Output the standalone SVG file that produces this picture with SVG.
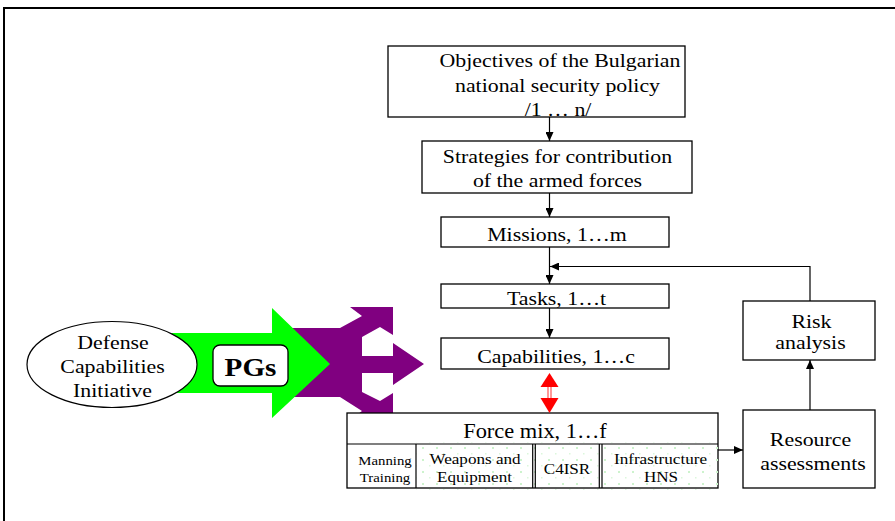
<svg xmlns="http://www.w3.org/2000/svg" width="895" height="521" viewBox="0 0 895 521">
  <style>
    .box { fill: #fff; stroke: #000; stroke-width: 1.3; }
    .ln { fill: none; stroke: #000; stroke-width: 1.2; }
    .t { font-family: "Liberation Serif", "Times New Roman", serif; font-size: 19px; fill: #000; text-anchor: middle; }
    .s { font-family: "Liberation Serif", "Times New Roman", serif; font-size: 15px; fill: #000; text-anchor: middle; }
    .xs { font-family: "Liberation Serif", "Times New Roman", serif; font-size: 13px; fill: #000; text-anchor: middle; }
    .b { font-family: "Liberation Serif", "Times New Roman", serif; font-size: 26px; font-weight: bold; fill: #000; text-anchor: middle; }
  </style>
  <defs>
    <marker id="ah" viewBox="0 0 9 8" markerWidth="9" markerHeight="8" refX="9" refY="4" orient="auto" markerUnits="userSpaceOnUse">
      <path d="M0,0 L9,4 L0,8 z" fill="#000"/>
    </marker>
    <pattern id="dots" x="0" y="0" width="14" height="12" patternUnits="userSpaceOnUse">
      <rect x="2" y="3" width="2" height="2" fill="#cdf3cd"/>
      <rect x="9" y="9" width="1.5" height="1.5" fill="#dcf7dc"/>
    </pattern>
  </defs>

  <rect width="895" height="521" fill="#fff"/>
  <path d="M4,521 L4,8 L895,8" fill="none" stroke="#000" stroke-width="2"/>

  <!-- Purple PG arrow -->
  <g id="purple-arrow">
    <polygon fill="#800080" points="288,328 340,328 362,316 350,307 393,307 393,335 380,327 362,337 362,356 393,356 393,343 424,364 393,385 393,373 362,373 362,392 380,401 393,393 393,420 350,420 362,411 340,397 288,397"/>
  </g>

  <!-- Green arrow -->
  <g id="green-arrow">
    <polygon fill="#00ff00" points="150,333 272,333 272,308 330,364 272,418 272,393 150,393"/>
  </g>

  <g id="dci">
    <ellipse cx="112" cy="364.5" rx="85" ry="43" fill="#fff" stroke="#000" stroke-width="1.2"/>
    <text class="t" transform="translate(113,349) scale(1.15,1)">Defense</text>
    <text class="t" transform="translate(112.5,373) scale(1.15,1)">Capabilities</text>
    <text class="t" transform="translate(112.5,397) scale(1.15,1)">Initiative</text>
  </g>

  <g id="pgs">
    <rect x="213" y="345" width="75" height="41" rx="7" fill="#fff" stroke="#000" stroke-width="1.3"/>
    <text class="b" transform="translate(250.5,376) scale(1.12,1)">PGs</text>
  </g>

  <g id="objectives">
    <rect class="box" x="388" y="46" width="297" height="71"/>
    <text class="t" transform="translate(560,67) scale(1.15,1)">Objectives of the Bulgarian</text>
    <text class="t" transform="translate(557.5,92) scale(1.15,1)">national security policy</text>
    <text class="t" transform="translate(558,116) scale(1.15,1)">/1 … n/</text>
  </g>

  <g id="strategies">
    <rect class="box" x="422" y="141" width="270" height="52"/>
    <text class="t" transform="translate(557.5,163) scale(1.15,1)">Strategies for contribution</text>
    <text class="t" transform="translate(557.5,187) scale(1.15,1)">of the armed forces</text>
  </g>

  <g id="missions">
    <rect class="box" x="441" y="217" width="228" height="30"/>
    <text class="t" transform="translate(557,241) scale(1.15,1)">Missions, 1…m</text>
  </g>

  <g id="tasks">
    <rect class="box" x="441" y="284" width="228" height="24"/>
    <text class="t" transform="translate(556.5,305) scale(1.15,1)">Tasks, 1…t</text>
  </g>

  <g id="capabilities">
    <rect class="box" x="441" y="338" width="228" height="31"/>
    <text class="t" transform="translate(556,363) scale(1.15,1)">Capabilities, 1…c</text>
  </g>

  <g id="force-mix">
    <rect class="box" x="347" y="413" width="371" height="75"/>
    <rect x="416" y="442" width="306" height="48" fill="url(#dots)"/>
    <line class="ln" x1="347" y1="444" x2="718" y2="444"/>
    <line class="ln" x1="416" y1="444" x2="416" y2="488"/>
    <line class="ln" x1="532.7" y1="444" x2="532.7" y2="488"/>
    <line class="ln" x1="535.3" y1="444" x2="535.3" y2="488"/>
    <line class="ln" x1="599.3" y1="444" x2="599.3" y2="488"/>
    <line class="ln" x1="602" y1="444" x2="602" y2="488"/>
    <text class="t" transform="translate(535,437.5) scale(1.12,1)" style="font-size:20px">Force mix, 1…f</text>
    <text class="xs" transform="translate(385,465) scale(1.14,1)">Manning</text>
    <text class="xs" transform="translate(385,481.5) scale(1.14,1)">Training</text>
    <text class="s" transform="translate(475,464) scale(1.14,1)">Weapons and</text>
    <text class="s" transform="translate(474.5,481.5) scale(1.14,1)">Equipment</text>
    <text class="s" transform="translate(567,474) scale(1.14,1)">C4ISR</text>
    <text class="s" transform="translate(660.5,464) scale(1.14,1)">Infrastructure</text>
    <text class="s" transform="translate(661,481.5) scale(1.14,1)">HNS</text>
  </g>

  <g id="risk">
    <rect class="box" x="743" y="301" width="132" height="59"/>
    <text class="t" transform="translate(811.5,328) scale(1.15,1)">Risk</text>
    <text class="t" transform="translate(810.5,349) scale(1.15,1)">analysis</text>
  </g>

  <g id="resource">
    <rect class="box" x="743" y="410" width="132" height="78"/>
    <text class="t" transform="translate(810.5,446) scale(1.15,1)">Resource</text>
    <text class="t" transform="translate(813,470) scale(1.15,1)">assessments</text>
  </g>

  <g id="connectors">
    <line class="ln" x1="549.5" y1="117" x2="549.5" y2="141" marker-end="url(#ah)"/>
    <line class="ln" x1="549.5" y1="193" x2="549.5" y2="217" marker-end="url(#ah)"/>
    <line class="ln" x1="549.5" y1="247" x2="549.5" y2="284" marker-end="url(#ah)"/>
    <line class="ln" x1="549.5" y1="308" x2="549.5" y2="338" marker-end="url(#ah)"/>
    <polyline class="ln" points="810,301 810,266.5 550,266.5" marker-end="url(#ah)"/>
    <line class="ln" x1="810" y1="410" x2="810" y2="360" marker-end="url(#ah)"/>
    <line class="ln" x1="718" y1="450" x2="743" y2="450" marker-end="url(#ah)"/>
    <g id="red-double-arrow">
      <rect x="548" y="386" width="3" height="13" fill="#fff" stroke="#ff0000" stroke-width="0.8"/>
      <polygon fill="#ff0000" points="549.5,373 558.5,387 540.5,387"/>
      <polygon fill="#ff0000" points="540.5,398 558.5,398 549.5,413"/>
    </g>
  </g>
</svg>
